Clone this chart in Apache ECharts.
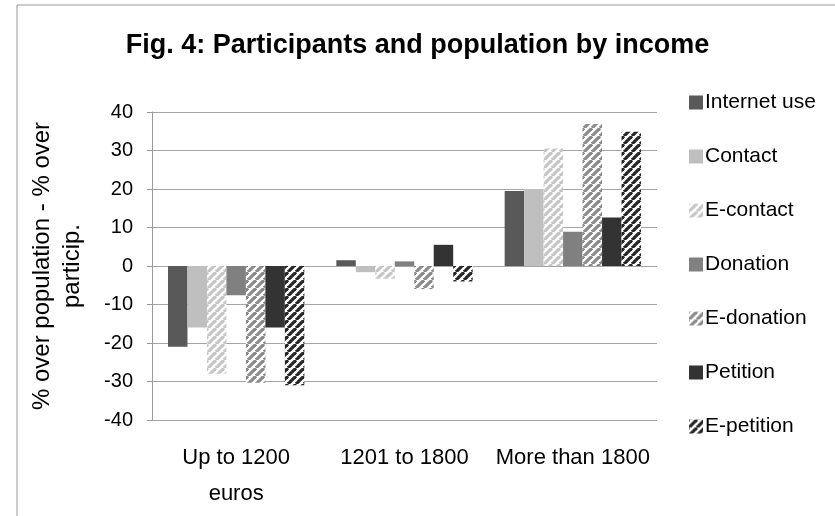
<!DOCTYPE html>
<html>
<head>
<meta charset="utf-8">
<script src="https://cdn.jsdelivr.net/npm/echarts@6/dist/echarts.min.js"></script>
<style>
  html, body { margin: 0; padding: 0; background: #fff; }
  #chart { width: 835px; height: 516px; }
</style>
</head>
<body>
<div id="chart"></div>
<script>
const categories = ['Up to 1200\neuros', '1201 to 1800', 'More than 1800'];
const seriesNames = ['Internet use', 'Contact', 'E-contact', 'Donation', 'E-donation', 'Petition', 'E-petition'];
const internetUse = [-21, 1.5, 19.5];
const contact = [-16, -1.6, 20];
const eContact = [-28, -3.3, 30.5];
const donation = [-7.6, 1.2, 8.9];
const eDonation = [-30.3, -6, 36.9];
const petition = [-16, 5.5, 12.6];
const ePetition = [-31, -4, 34.9];
const yTicks = [-40, -30, -20, -10, 0, 10, 20, 30, 40];

const FONT = 'Liberation Sans';

// diagonal "/" stripes on white
function stripes(color) {
  const c = document.createElement('canvas');
  c.width = 8; c.height = 8;
  const ctx = c.getContext('2d');
  ctx.fillStyle = '#fff';
  ctx.fillRect(0, 0, 8, 8);
  ctx.strokeStyle = color;
  ctx.lineWidth = 3.2;
  for (let k = -1; k <= 1; k++) {
    ctx.beginPath();
    ctx.moveTo(k * 8, 8);
    ctx.lineTo(k * 8 + 8, 0);
    ctx.stroke();
  }
  return { image: c, repeat: 'repeat' };
}

const fills = [
  '#595959',
  '#bfbfbf',
  stripes('#c6c6c6'),
  '#808080',
  stripes('#8a8a8a'),
  '#333333',
  stripes('#262626')
];
const values = [internetUse, contact, eContact, donation, eDonation, petition, ePetition];

const chart = echarts.init(document.getElementById('chart'));
chart.setOption({
  animation: false,
  backgroundColor: '#fff',
  title: {
    text: 'Fig. 4: Participants and population by income',
    left: 'center',
    top: 27,
    textStyle: { fontFamily: FONT, fontSize: 27, fontWeight: 'bold', color: '#000' }
  },
  legend: {
    orient: 'vertical',
    left: 684,
    top: 87,
    itemWidth: 14,
    itemHeight: 14,
    itemGap: 33,
    icon: 'rect',
    textStyle: { fontFamily: FONT, fontSize: 21, color: '#000', padding: [0, 0, 0, -3] },
    data: seriesNames
  },
  graphic: [{
    type: 'rect',
    shape: { x: 17, y: 5, width: 1000, height: 1000 },
    style: { fill: 'none', stroke: '#999', lineWidth: 1 },
    silent: true
  }],
  grid: { left: 152, right: 178, top: 112, bottom: 96, outerBoundsMode: 'none' },
  xAxis: {
    type: 'category',
    data: categories,
    axisLine: { show: false, onZero: false },
    axisTick: { show: false },
    axisLabel: { interval: 0, fontFamily: FONT, fontSize: 22, color: '#000', margin: 20, lineHeight: 36 }
  },
  yAxis: {
    type: 'value',
    min: yTicks[0],
    max: yTicks[yTicks.length - 1],
    interval: 10,
    name: '% over population - % over\nparticip.',
    nameLocation: 'middle',
    nameGap: 65,
    nameRotate: 90,
    nameTextStyle: { fontFamily: FONT, fontSize: 24, color: '#000', lineHeight: 30 },
    axisLine: { show: true, lineStyle: { color: '#999' } },
    axisTick: { show: true, length: 5, lineStyle: { color: '#999' } },
    axisLabel: { fontFamily: FONT, fontSize: 20, color: '#000', margin: 19 },
    splitLine: { lineStyle: { color: '#a6a6a6' } }
  },
  series: seriesNames.map((name, i) => ({
    name: name,
    type: 'bar',
    data: values[i],
    barGap: '0%',
    barCategoryGap: '19%',
    itemStyle: { color: fills[i] }
  }))
});
</script>
</body>
</html>
